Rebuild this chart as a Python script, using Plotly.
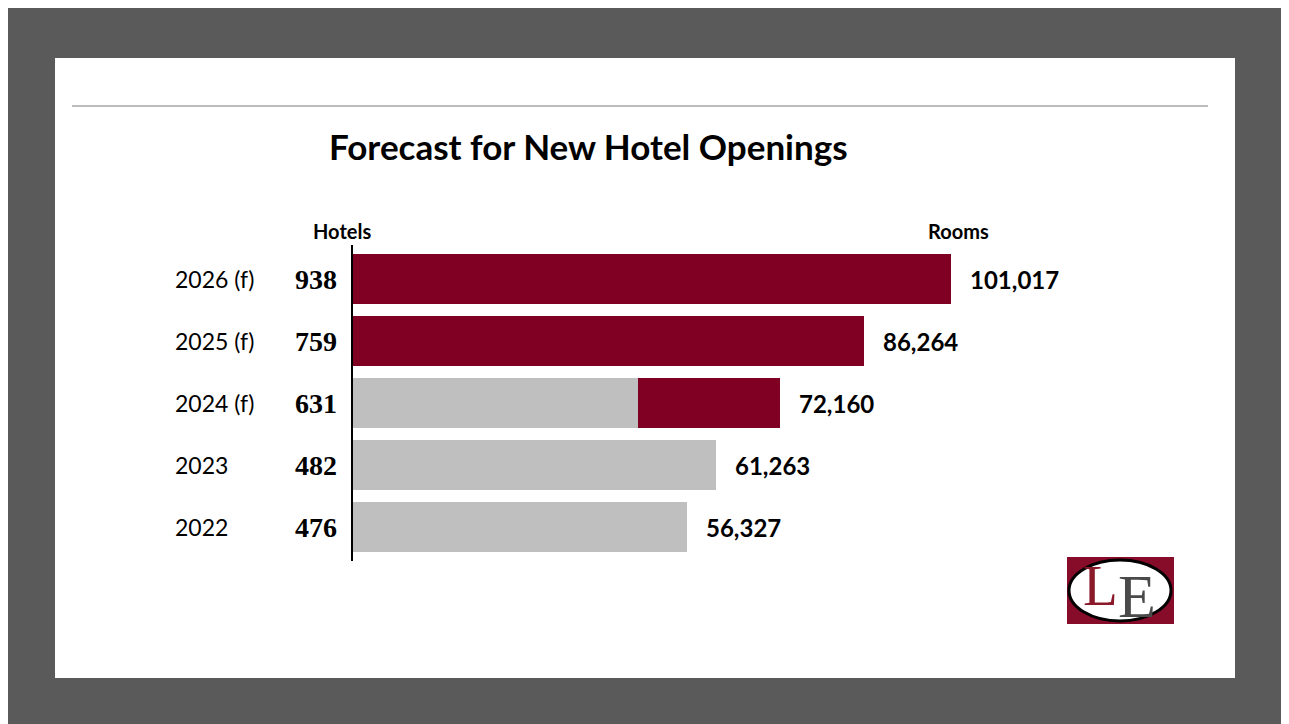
import plotly.graph_objects as go

# data
years = ["2022", "2023", "2024 (f)", "2025 (f)", "2026 (f)"]
hotels = [476, 482, 631, 759, 938]
rooms = [56327, 61263, 72160, 86264, 101017]
rooms_opened = [56327, 61263, 48100, 0, 0]      # grey part
rooms_forecast = [0, 0, 24060, 86264, 101017]   # red part

RED = "#7f0022"
GREY = "#bfbfbf"
FONT = "Lato"

# the page puts the figure 8px in from the corner, so work in page pixels
OFF = 8
L, R, T, B = 353, 1182, 248, 558
XMAX = 140000


def px(x):
    return (x - L) / (R - L)


def py(y):
    return (B - y) / (B - T)


fig = go.Figure()
fig.add_trace(go.Bar(y=years, x=rooms_opened, orientation="h", marker_color=GREY,
                     marker_line_width=0, hoverinfo="skip"))
fig.add_trace(go.Bar(y=years, x=rooms_forecast, orientation="h", marker_color=RED,
                     marker_line_width=0, hoverinfo="skip"))


def note(x, y, text, size, family=FONT, color="black", bold=False, xanchor="center", yref="paper"):
    return dict(x=x, y=y, xref="paper", yref=yref, text=text, showarrow=False,
                xanchor=xanchor, yanchor="middle",
                font=dict(family=family, size=size, color=color,
                          weight="bold" if bold else "normal"))


ann = []
for i, (yr, h, r) in enumerate(zip(years, hotels, rooms)):
    ann.append(dict(x=r, y=i, xref="x", yref="y", text=f"{r:,}", showarrow=False,
                    xanchor="left", yanchor="middle", xshift=17,
                    font=dict(family=FONT, size=24, color="black", weight="bold")))
    ann.append(note(px(339), i, str(h), 28, family="Liberation Serif", bold=True,
                    xanchor="right", yref="y"))
    ann.append(note(px(173), i, yr, 23, xanchor="left", yref="y"))

ann += [
    note(px(588), py(146), "Forecast for New Hotel Openings", 35, bold=True),
    note(px(342), py(231), "Hotels", 20, bold=True),
    note(px(958), py(231), "Rooms", 20, bold=True),
    # logo letters
    note(px(1100), py(585), "L", 57, family="Liberation Serif", color="#8a1a2a"),
    note(px(1137), py(596), "E", 62, family="Liberation Serif", color="#4a4a4a"),
]

shapes = [
    # outer frame
    dict(type="rect", xref="paper", yref="paper", x0=px(0), x1=px(1300), y0=py(740), y1=py(-1),
         fillcolor="#5a5a5a", line_width=0, layer="below"),
    dict(type="rect", xref="paper", yref="paper", x0=px(55), x1=px(1235), y0=py(678), y1=py(58),
         fillcolor="white", line_width=0, layer="below"),
    # rule under the header
    dict(type="line", xref="paper", yref="paper", x0=px(72), x1=px(1208), y0=py(106), y1=py(106),
         line=dict(color="#a6a6a6", width=1.5)),
    # vertical axis line
    dict(type="line", xref="paper", yref="paper", x0=px(352), x1=px(352), y0=py(561), y1=py(245),
         line=dict(color="black", width=2)),
    # logo
    dict(type="rect", xref="paper", yref="paper", x0=px(1067), x1=px(1174), y0=py(624), y1=py(557),
         fillcolor="#860c2a", line_width=0),
    dict(type="circle", xref="paper", yref="paper", x0=px(1069), x1=px(1171), y0=py(621), y1=py(560),
         fillcolor="white", line=dict(color="black", width=3)),
]

fig.update_layout(
    barmode="stack",
    bargap=0.2,
    width=1289, height=724,
    margin=dict(l=L - OFF, r=1289 - R + OFF, t=T - OFF, b=724 - B + OFF),
    paper_bgcolor="white",
    plot_bgcolor="rgba(0,0,0,0)",
    showlegend=False,
    annotations=ann,
    shapes=shapes,
)
fig.update_xaxes(range=[0, XMAX], visible=False, fixedrange=True)
fig.update_yaxes(range=[-0.5, 4.5], showticklabels=False, showgrid=False, zeroline=False,
                 showline=False, ticks="", fixedrange=True)

fig.write_html("out.html")
